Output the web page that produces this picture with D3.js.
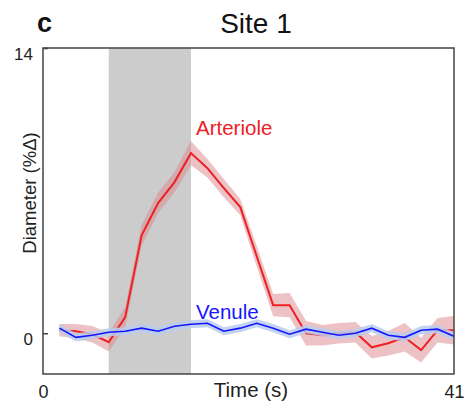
<!DOCTYPE html>
<html><head><meta charset="utf-8">
<script src="https://cdn.jsdelivr.net/npm/d3@7"></script>
<style>body{margin:0;background:#fff}svg{display:block;font-family:Arial,"Liberation Sans",sans-serif}</style>
</head><body><svg id="c" width="467" height="408"></svg>
<script>
const times = [1.64,3.28,4.92,6.56,8.2,9.84,11.48,13.12,14.76,16.4,18.04,19.68,21.32,22.96,24.6,26.24,27.88,29.52,31.16,32.8,34.44,36.08,37.72,39.36,41];
const arteriole = [0.15,0.1,-0.05,-0.44,0.79,4.81,6.39,7.42,8.84,8.1,7.12,6.19,3.78,1.38,1.38,0,-0.1,0,0.05,-0.69,-0.49,-0.2,-0.83,0.15,0.15];
const arterioleErr = [0.3,0.35,0.4,0.45,0.5,0.5,0.5,0.5,0.6,0.45,0.45,0.4,0.5,0.55,0.6,0.6,0.5,0.5,0.5,0.55,0.6,0.7,0.6,0.6,0.7];
const venule = [0.25,-0.2,-0.1,0.05,0.1,0.25,0.1,0.34,0.44,0.49,0.1,0.25,0.49,0.25,-0.05,0.2,0.05,-0.1,0,0.25,-0.1,-0.2,0.15,0.2,-0.15];
const venuleErr = [0.2,0.2,0.2,0.2,0.2,0.2,0.2,0.2,0.2,0.2,0.2,0.2,0.2,0.2,0.2,0.2,0.2,0.2,0.2,0.2,0.2,0.2,0.2,0.2,0.2];
const stimulus = [6.56, 14.76];
const xTicks = [0, 41];
const yTicks = [0, 14];

const svg = d3.select("#c");
const x = d3.scaleLinear().domain([0,41]).range([43,454]);
const y = d3.scaleLinear().domain([-2,14]).range([374,48]);

svg.append("rect").attr("x",x(stimulus[0])).attr("y",y(14)).attr("width",x(stimulus[1])-x(stimulus[0])).attr("height",y(-2)-y(14)).attr("fill","#cccccc");

function band(vals, errs, fill, op){
  const a = d3.area().x((d,i)=>x(times[i])).y0((d,i)=>y(vals[i]-errs[i])).y1((d,i)=>y(vals[i]+errs[i]));
  svg.append("path").attr("d",a(vals)).attr("fill",fill).attr("opacity",op);
}
function line(vals, col, w){
  const l = d3.line().x((d,i)=>x(times[i])).y(d=>y(d));
  svg.append("path").attr("d",l(vals)).attr("fill","none").attr("stroke",col).attr("stroke-width",w).attr("stroke-linejoin","miter");
}
band(arteriole, arterioleErr, "#d9868b", 0.5);
line(arteriole, "#ee2024", 2);
band(venule, venuleErr, "#b9cdee", 0.85);
line(venule, "#1515ff", 1.6);

// frame
svg.append("rect").attr("x",x(0)).attr("y",y(14)).attr("width",x(41)-x(0)).attr("height",y(-2)-y(14)).attr("fill","none").attr("stroke","#444").attr("stroke-width",1.5);

// y ticks
const yAxis = d3.axisLeft(y).tickValues(yTicks).tickSize(-5).tickPadding(10).tickFormat(d3.format("d"));
const gy = svg.append("g").attr("transform",`translate(${x(0)},0)`).call(yAxis);
gy.select(".domain").remove();
gy.selectAll("line").attr("stroke","#444").attr("stroke-width",1.5);
gy.selectAll("text").attr("font-size",17).attr("fill","#222").attr("font-family","Arial, Liberation Sans, sans-serif").attr("dy","0.65em");

const xAxis = d3.axisBottom(x).tickValues(xTicks).tickSize(0).tickPadding(10).tickFormat(d3.format("d"));
const gx = svg.append("g").attr("transform",`translate(0,${y(-2)})`).call(xAxis);
gx.select(".domain").remove();
gx.selectAll("text").attr("font-size",18).attr("fill","#222").attr("font-family","Arial, Liberation Sans, sans-serif").attr("dy","0.75em");

svg.append("text").attr("x",251).attr("y",397).attr("text-anchor","middle").attr("font-size",20.5).attr("fill","#222").text("Time (s)");
svg.append("text").attr("transform","translate(36,193) rotate(-90)").attr("text-anchor","middle").attr("font-size",18.5).attr("fill","#222").text("Diameter (%Δ)");
svg.append("text").attr("x",256).attr("y",33).attr("text-anchor","middle").attr("font-size",28).attr("fill","#111").text("Site 1");
svg.append("text").attr("x",37).attr("y",32).attr("font-size",27).attr("font-weight","bold").attr("fill","#111").text("c");
svg.append("text").attr("x",196).attr("y",135).attr("font-size",20.5).attr("fill","#ee2024").text("Arteriole");
svg.append("text").attr("x",196).attr("y",319).attr("font-size",20.5).attr("fill","#1515ff").text("Venule");
</script></body></html>
